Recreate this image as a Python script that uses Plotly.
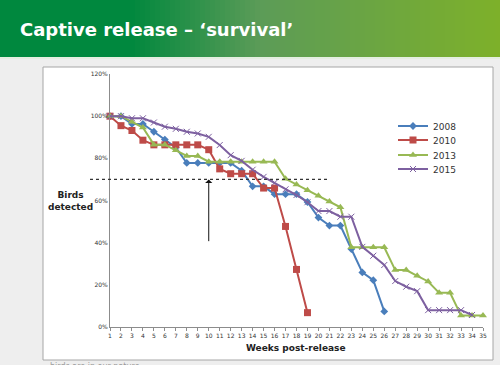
import plotly.graph_objects as go

weeks = list(range(1, 36))
series_names = ["2008", "2010", "2013", "2015"]
s2008 = [100, 100, 96.3, 96.3, 92.6, 88.9, 85.2, 77.8, 77.8, 77.8, 77.8, 77.8, 74.1,
         66.7, 66.7, 63.0, 63.0, 63.0, 59.3, 51.9, 48.1, 48.1, 37.0, 25.9, 22.2, 7.4]
s2010 = [100, 95.5, 93.2, 88.6, 86.4, 86.4, 86.4, 86.4, 86.4, 84.1, 75.0, 72.7, 72.7,
         72.7, 65.9, 65.9, 47.7, 27.3, 6.8]
s2013 = [100, 100, 97.3, 94.6, 86.5, 86.5, 83.8, 81.1, 81.1, 78.4, 78.4, 78.4, 78.4,
         78.4, 78.4, 78.4, 70.3, 67.6, 64.9, 62.2, 59.5, 56.8, 37.8, 37.8, 37.8, 37.8,
         27.0, 27.0, 24.3, 21.6, 16.2, 16.2, 5.4, 5.4, 5.4]
s2015 = [100, 100, 99, 99, 97, 95, 94, 92.6, 91.8, 90.2, 86.3, 81.5, 78.8, 74.6, 71.2,
         68.4, 65.3, 62.6, 59.2, 55, 55, 52.3, 52.3, 38, 33.8, 29.4, 21.8, 19.1, 17,
         8, 8, 8, 8, 5.7]
y_ticks = [0, 0.2, 0.4, 0.6, 0.8, 1.0, 1.2]
threshold = 0.70
threshold_end_week = 21
arrow_week = 10
arrow_bottom = 0.40

W, H = 500, 365
L, R, T, B = 110, 17, 74, 38
PW, PH = W - L - R, H - T - B


def px(xp):
    return (xp - L) / PW


def py(yp):
    return (H - B - yp) / PH


colors = ["#4A7EBB", "#BE4B48", "#98B954", "#7D60A0"]
symbols = ["diamond", "square", "triangle-up", "x-thin"]
sizes = [6, 7, 7, 6]
data = [s2008, s2010, s2013, s2015]
legend_ids = ["legend", "legend2", "legend3", "legend4"]
legend_rows = [126, 140, 155, 169]

fig = go.Figure()
for name, vals, c, sym, sz, lg in zip(series_names, data, colors, symbols, sizes, legend_ids):
    marker = dict(symbol=sym, size=sz, color=c)
    if sym == "x-thin":
        marker["line"] = dict(width=1, color=c)
    fig.add_trace(go.Scatter(
        x=weeks[:len(vals)], y=[v / 100 for v in vals], name=name, legend=lg,
        mode="lines+markers", line=dict(color=c, width=2), marker=marker,
        cliponaxis=False))

shapes = []
# banner gradient
stops = [(0, (0, 136, 62)), (130, (0, 136, 62)), (260, (92, 156, 88)), (500, (126, 177, 42))]
n = 100
for i in range(n):
    x0p = i * W / n
    x1p = (i + 1) * W / n + 0.6
    xm = (x0p + x1p) / 2
    for (a, ca), (b, cb) in zip(stops[:-1], stops[1:]):
        if a <= xm <= b:
            t = (xm - a) / (b - a) if b > a else 0
            col = tuple(int(ca[k] + (cb[k] - ca[k]) * t) for k in range(3))
            break
    shapes.append(dict(type="rect", xref="paper", yref="paper", x0=px(x0p), x1=px(x1p),
                       y0=py(57), y1=py(0), fillcolor="rgb(%d,%d,%d)" % col,
                       line=dict(width=0), layer="below"))
shapes.append(dict(type="rect", xref="paper", yref="paper", x0=px(0), x1=px(500),
                   y0=py(59), y1=py(57), fillcolor="#e4eee0", line=dict(width=0), layer="below"))
# chart frame
shapes.append(dict(type="rect", xref="paper", yref="paper", x0=px(43), x1=px(493),
                   y0=py(360), y1=py(67), fillcolor="white",
                   line=dict(color="#a6a6a6", width=1), layer="below"))
# threshold dashed line
shapes.append(dict(type="line", xref="paper", yref="paper", x0=px(90),
                   x1=(threshold_end_week - 1) / 34, y0=threshold / 1.2, y1=threshold / 1.2,
                   line=dict(color="#333333", width=1.2, dash="3px,3px")))
fig.update_layout(shapes=shapes)

ann = [
    dict(xref="paper", yref="paper", x=px(18), y=py(30), text="<b>Captive release – ‘survival’</b>",
         showarrow=False, xanchor="left", yanchor="middle",
         font=dict(family="DejaVu Sans", size=18, color="white")),
    dict(xref="paper", yref="paper", x=px(70), y=py(201), text="<b>Birds<br>detected</b>",
         showarrow=False, xanchor="center", yanchor="middle",
         font=dict(family="DejaVu Sans", size=9, color="#222222")),
    dict(xref="paper", yref="paper", x=px(296), y=py(348), text="<b>Weeks post-release</b>",
         showarrow=False, xanchor="center", yanchor="middle",
         font=dict(family="DejaVu Sans", size=9, color="#222222")),
    dict(x=arrow_week, y=threshold, ax=arrow_week, ay=arrow_bottom, axref="x", ayref="y",
         xref="x", yref="y", text="", showarrow=True, arrowhead=1, arrowsize=1.2,
         arrowwidth=1, arrowcolor="#111111"),
    dict(xref="paper", yref="paper", x=px(48), y=py(360), text="birds are in our nature",
         showarrow=False, xanchor="left", yanchor="top",
         font=dict(family="DejaVu Sans", size=8, color="#999999")),
]
fig.update_layout(annotations=ann)

legend_style = dict(xanchor="left", yanchor="middle", bgcolor="rgba(0,0,0,0)",
                    font=dict(size=9, color="#333333"), itemwidth=30)
layout_legends = {}
for lg, row in zip(legend_ids, legend_rows):
    layout_legends[lg] = dict(x=px(393), y=py(row), **legend_style)

fig.update_layout(
    width=W, height=H, margin=dict(l=L, r=R, t=T, b=B),
    paper_bgcolor="#eeeeee", plot_bgcolor="white",
    font=dict(family="DejaVu Sans", color="#404040"),
    showlegend=True,
    xaxis=dict(range=[1, 35], tickvals=weeks, ticktext=[str(w) for w in weeks],
               showgrid=False, zeroline=False, showline=True, linecolor="#8c8c8c",
               linewidth=1, ticks="outside", ticklen=3, tickcolor="#8c8c8c",
               tickfont=dict(size=6, color="#333333")),
    yaxis=dict(range=[0, 1.2], tickvals=y_ticks, tickformat=".0%",
               showgrid=False, zeroline=False, showline=True, linecolor="#8c8c8c",
               linewidth=1, ticks="", tickfont=dict(size=6, color="#333333")),
    **layout_legends,
)

fig.write_html("out.html", config={"displayModeBar": False},
               post_script="document.body.style.margin='0';")
